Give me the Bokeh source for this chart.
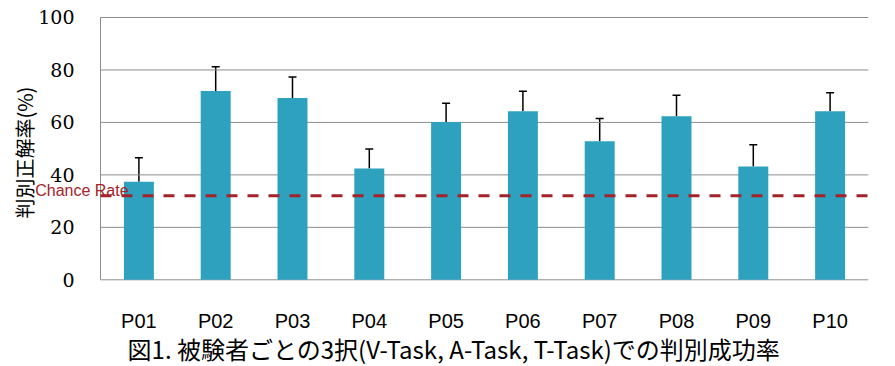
import math
from bokeh.plotting import figure
from bokeh.models import ColumnDataSource, Whisker, TeeHead, Label, Range1d
from bokeh.core.properties import value
from bokeh.embed import file_html
from bokeh.resources import INLINE

participants = ["P01", "P02", "P03", "P04", "P05", "P06", "P07", "P08", "P09", "P10"]
accuracy = [37.4, 72.0, 69.3, 42.4, 60.2, 64.3, 52.8, 62.4, 43.2, 64.3]
error_top = [46.5, 81.2, 77.3, 49.9, 67.3, 71.9, 61.5, 70.4, 51.5, 71.3]
chance_rate = 32.0
y_ticks = [0, 20, 40, 60, 80, 100]
y_label = "判別正解率(%)"
caption = "図1. 被験者ごとの3択(V-Task, A-Task,  T-Task)での判別成功率"

n = len(participants)
x_pos = [i + 0.5 for i in range(n)]
source = ColumnDataSource(data=dict(x=x_pos, acc=accuracy, top=error_top))

GRAY = "#8c8c8c"
RED = "#a3232b"
BLUE = "#2ea1bf"

p = figure(width=880, height=366, x_range=Range1d(-1.302, n), y_range=Range1d(-33.05, 106.48),
           output_backend="svg", toolbar_location=None,
           min_border_left=0, min_border_right=12, min_border_top=0, min_border_bottom=0)
p.outline_line_color = None
p.xaxis.visible = False
p.yaxis.visible = False
p.xgrid.grid_line_color = None
p.ygrid.grid_line_color = None

# gridlines and y axis line, from the tick list
p.segment(x0=[0] * len(y_ticks), x1=[n] * len(y_ticks), y0=y_ticks, y1=y_ticks,
          line_color=GRAY, line_width=1)
p.segment(x0=[0], x1=[0], y0=[y_ticks[0]], y1=[y_ticks[-1]], line_color=GRAY, line_width=1)

# y tick labels
p.text(x=[0] * len(y_ticks), y=y_ticks, text=[str(t) for t in y_ticks],
       text_align="right", text_baseline="middle", x_offset=-26,
       text_font=value("DejaVu Serif"), text_font_size="19px", text_color="black")

# y axis title (vertical)
p.text(x=[0], y=[50], text=[y_label], angle=math.pi / 2,
       text_align="center", text_baseline="middle", x_offset=-76, y_offset=4,
       text_font=value("Noto Sans CJK JP"), text_font_size="20px", text_color="black")

# bars and error bars
p.vbar(x="x", top="acc", width=0.39, source=source, color=BLUE, line_color=None)
w = Whisker(base="x", lower="acc", upper="top", source=source,
            line_color="black", line_width=1.5,
            upper_head=TeeHead(size=8, line_color="black", line_width=1.5), lower_head=None)
p.add_layout(w)

# chance level
p.segment(x0=[0], x1=[n], y0=[chance_rate], y1=[chance_rate], line_color=RED,
          line_width=3, line_dash="11 10")
p.add_layout(Label(x=-0.85, y=chance_rate, y_offset=5,
                   text="Chance Rate", text_color=RED, text_font_size="16px",
                   text_font="Liberation Sans", text_baseline="alphabetic"))

# x tick labels (participants)
p.text(x=x_pos, y=[0] * n, text=participants, text_align="center", text_baseline="middle",
       y_offset=41, text_font=value("Liberation Sans"), text_font_size="20px",
       text_color="black")

# caption
p.text(x=[n / 2], y=[0], text=[caption], text_align="center", text_baseline="middle",
       x_offset=-28, y_offset=69, text_font=value("Noto Sans CJK JP"), text_font_size="24px",
       text_color="black")

open("out.html", "w").write(file_html(p, INLINE))
